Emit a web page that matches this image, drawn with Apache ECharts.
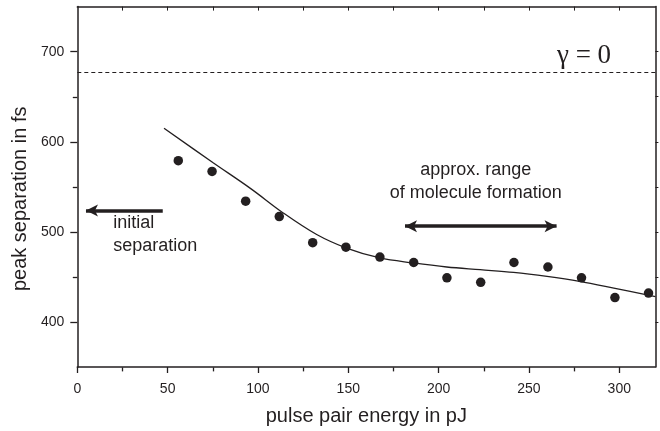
<!DOCTYPE html>
<html>
<head>
<meta charset="utf-8">
<script src="https://cdn.jsdelivr.net/npm/echarts@6/dist/echarts.min.js"></script>
<style>html,body{margin:0;padding:0;background:#fff}#c{width:660px;height:431px}</style>
</head>
<body>
<div id="c"></div>
<script>
// measured data
const energy = [55.9, 74.6, 93.2, 111.8, 130.3, 148.7, 167.5, 186.2, 204.6, 223.3, 241.7, 260.5, 279.1, 297.6, 316.2];
const separation = [579, 567, 534, 517, 488, 483, 472, 466, 449, 444, 466, 461, 449, 427, 432];
// fitted curve
const fitEnergy = [48, 75, 96, 114, 132.5, 149, 167.5, 186, 204.5, 223, 241.5, 260, 278, 297, 320];
const fitSeparation = [615, 577, 548, 521, 497, 482, 471, 465.5, 461, 458, 455, 450.5, 445, 437.5, 428];
// reference level (gamma = 0)
const gammaZeroLevel = 677;
// tick labels
const xTickLabels = [0, 50, 100, 150, 200, 250, 300];
const xMinorTicks = [25, 75, 125, 175, 225, 275];
const xTopTicks = [25, 50, 75, 100, 125, 150, 175, 200, 225, 250, 275, 300];
const yTickLabels = [400, 500, 600, 700];
const yMinorTicks = [450, 550, 650];
const yRightTicks = [400, 450, 500, 550, 600, 650, 700];
// annotations (data coordinates)
const initialArrow = [[47.3, 523.7], [4.8, 523.7]];
const rangeArrow = [[181.4, 506.3], [265.3, 506.3]];

const INK = '#231f20';
const FONT = "'Liberation Sans', Arial, sans-serif";
const GRID = {left: 77.3, right: 4.6, top: 6.6, bottom: 63.6};

const chart = echarts.init(document.getElementById('c'), null, {renderer: 'canvas'});
const gridBox = Object.assign({containLabel: false}, GRID);

chart.setOption({
  animation: false,
  backgroundColor: '#fff',
  textStyle: {fontFamily: FONT, color: INK},
  grid: [Object.assign({}, gridBox), Object.assign({}, gridBox)],
  xAxis: [
    {
      type: 'value', gridIndex: 0, position: 'bottom', min: 0, max: 320,
      name: 'pulse pair energy in pJ', nameLocation: 'middle', nameGap: 39,
      nameTextStyle: {fontSize: 20, color: INK, fontFamily: FONT},
      axisLine: {show: true, onZero: false, lineStyle: {color: INK, width: 1.5}},
      axisTick: {show: true, inside: false, length: 6, customValues: xTickLabels, lineStyle: {color: INK, width: 1.3}},
      axisLabel: {show: true, customValues: xTickLabels, margin: 15, fontSize: 14, color: INK, fontFamily: FONT},
      splitLine: {show: false}
    },
    {
      type: 'value', gridIndex: 0, position: 'top', min: 0, max: 320,
      axisLine: {show: true, onZero: false, lineStyle: {color: INK, width: 1.5}},
      axisTick: {show: true, inside: true, length: 4, customValues: xTopTicks, lineStyle: {color: INK, width: 1}},
      axisLabel: {show: false},
      splitLine: {show: false}
    },
    {
      type: 'value', gridIndex: 1, position: 'bottom', min: 0, max: 320,
      axisLine: {show: false, onZero: false},
      axisTick: {show: true, inside: false, length: 4, customValues: xMinorTicks, lineStyle: {color: INK, width: 1.3}},
      axisLabel: {show: false},
      splitLine: {show: false}
    }
  ],
  yAxis: [
    {
      type: 'value', gridIndex: 0, position: 'left', min: 350, max: 750,
      name: 'peak separation in fs', nameLocation: 'middle', nameGap: 46, nameRotate: 90,
      nameTextStyle: {fontSize: 20, color: INK, fontFamily: FONT, padding: [0, 24, 0, 0]},
      axisLine: {show: true, onZero: false, lineStyle: {color: INK, width: 1.5}},
      axisTick: {show: true, inside: false, length: 7, customValues: yTickLabels, lineStyle: {color: INK, width: 1.3}},
      axisLabel: {show: true, customValues: yTickLabels, margin: 13, fontSize: 14, color: INK, fontFamily: FONT},
      splitLine: {show: false}
    },
    {
      type: 'value', gridIndex: 0, position: 'right', min: 350, max: 750,
      axisLine: {show: true, onZero: false, lineStyle: {color: INK, width: 1.5}},
      axisTick: {show: true, inside: false, length: 3, customValues: yRightTicks, lineStyle: {color: INK, width: 1}},
      axisLabel: {show: false},
      splitLine: {show: false}
    },
    {
      type: 'value', gridIndex: 1, position: 'left', min: 350, max: 750,
      axisLine: {show: false, onZero: false},
      axisTick: {show: true, inside: false, length: 4.5, customValues: yMinorTicks, lineStyle: {color: INK, width: 1.3}},
      axisLabel: {show: false},
      splitLine: {show: false}
    }
  ],
  series: [
    {
      name: 'fit', type: 'line', xAxisIndex: 0, yAxisIndex: 0,
      data: fitEnergy.map((x, i) => [x, fitSeparation[i]]),
      smooth: 0.35, showSymbol: false, silent: true,
      lineStyle: {color: INK, width: 1.3},
      markLine: {
        silent: true, symbol: ['none', 'none'], label: {show: false},
        lineStyle: {color: INK, width: 1, type: [4, 3]},
        data: [{yAxis: gammaZeroLevel}]
      }
    },
    {
      name: 'data', type: 'scatter', xAxisIndex: 0, yAxisIndex: 0,
      data: energy.map((x, i) => [x, separation[i]]),
      symbol: 'circle', symbolSize: 9.5, silent: true,
      itemStyle: {color: INK, opacity: 1},
      markLine: {
        silent: true, label: {show: false}, symbolSize: [9, 12],
        lineStyle: {color: INK, width: 3.5, type: 'solid', opacity: 1},
        data: [
          [{coord: initialArrow[0], symbol: 'none'}, {coord: initialArrow[1], symbol: 'arrow'}],
          [{coord: rangeArrow[0], symbol: 'arrow'}, {coord: rangeArrow[1], symbol: 'arrow'}]
        ]
      }
    },
    {
      name: 'notes', type: 'scatter', xAxisIndex: 0, yAxisIndex: 0,
      symbolSize: 0, silent: true,
      itemStyle: {opacity: 1},
      data: [
        {value: [280.5, 695], name: 'γ = 0',
          label: {fontFamily: "'Liberation Serif', 'Times New Roman', serif", fontSize: 27, align: 'center'}},
        {value: [220.6, 555.5], name: 'approx. range\nof molecule formation',
          label: {fontSize: 18, align: 'center', lineHeight: 23}},
        {value: [19.9, 496.5], name: 'initial\nseparation',
          label: {fontSize: 18, align: 'left', lineHeight: 23}}
      ],
      label: {
        show: true, position: 'inside', verticalAlign: 'middle', color: INK, fontFamily: FONT,
        formatter: p => p.name
      }
    }
  ]
});
</script>
</body>
</html>
